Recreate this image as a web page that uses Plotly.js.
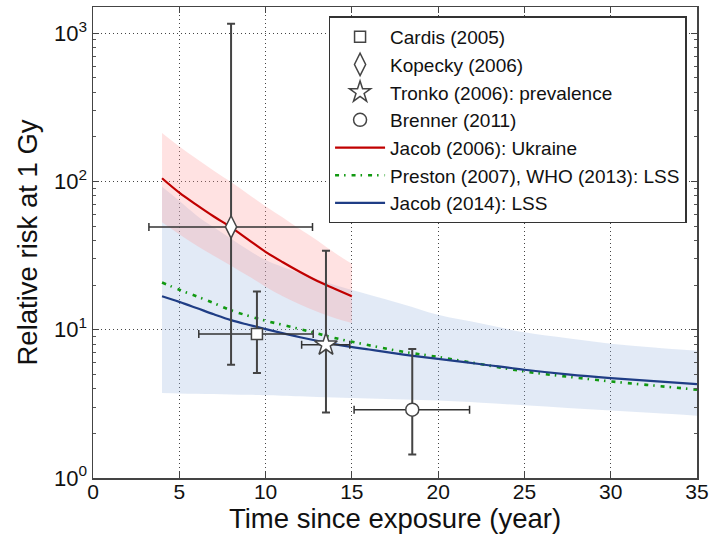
<!DOCTYPE html>
<html>
<head>
<meta charset="utf-8">
<script src="https://cdn.plot.ly/plotly-3.0.1.min.js"></script>
<style>html,body{margin:0;padding:0;background:#fff;}#chart{width:710px;height:536px;}</style>
</head>
<body>
<div id="chart"></div>
<script>
// ---- Data ----
// Jacob (2006): Ukraine (central curve and band)
const ukrX = [4, 5, 6, 7, 8, 9, 10, 11, 12, 13, 14, 15];
const ukrMid = [105, 84, 69.5, 58, 49, 40.5, 33.5, 28.5, 24.5, 21.3, 18.9, 16.8];
const ukrHigh = [212, 172, 142, 118, 99, 82, 68, 57, 47.5, 40, 33, 27.8];
const ukrLow = [53, 44, 37, 31.5, 27, 23, 19.5, 16.8, 14.8, 13.2, 12, 11.1];

// Jacob (2014): LSS (central curve and band)
const lssX = [4, 5, 6, 7, 8, 9, 10, 12, 14, 16, 18, 20, 22.5, 25, 27.5, 30, 32.5, 35];
const lssMid = [16.8, 15.4, 14.0, 12.7, 11.6, 10.8, 10.1, 8.9, 8.0, 7.35, 6.8, 6.35, 5.85, 5.37, 5.0, 4.72, 4.5, 4.3];
const lssHigh = [92, 74, 59, 49, 41, 34.5, 29.5, 24, 20, 17.2, 14.8, 12.6, 11, 9.6, 8.75, 8.05, 7.6, 7.22];
const lssLow = [3.74, 3.72, 3.70, 3.68, 3.66, 3.64, 3.62, 3.56, 3.49, 3.43, 3.38, 3.33, 3.22, 3.09, 2.97, 2.85, 2.74, 2.63];

// Preston (2007), WHO (2013): LSS
const prestonY = [20.8, 18.6, 16.8, 15.1, 13.5, 12.4, 11.5, 10.1, 8.8, 7.85, 7.1, 6.55, 5.85, 5.23, 4.82, 4.48, 4.2, 3.94];

// Study points: [x, y, xLow, xHigh, yLow, yHigh]
const cardis  = [9.5, 9.35, 6.13, 12.76, 5.1, 18.1];
const kopecky = [8.0, 49.3, 3.24, 12.72, 5.81, 1158];
const tronko  = [13.5, 7.92, 12.09, 14.88, 2.77, 34.1];
const brenner = [18.5, 2.89, 15.13, 21.82, 1.44, 7.41];

const xTicks = [0, 5, 10, 15, 20, 25, 30, 35];
const yTicks = [1, 10, 100, 1000];
const yTickText = ['10<sup>0</sup>', '10<sup>1</sup>', '10<sup>2</sup>', '10<sup>3</sup>'];

const names = {
  cardis: 'Cardis (2005)',
  kopecky: 'Kopecky (2006)',
  tronko: 'Tronko (2006): prevalence',
  brenner: 'Brenner (2011)',
  ukr: 'Jacob (2006): Ukraine',
  preston: 'Preston (2007), WHO (2013): LSS',
  lss: 'Jacob (2014): LSS'
};

// ---- Build traces ----
const FONT = 'Liberation Sans, Arial, Helvetica, sans-serif';

function band(x, low, high, fill) {
  return [
    {x: x, y: low, mode: 'lines', line: {width: 0, color: 'rgba(0,0,0,0)', shape: 'spline'}, showlegend: false, hoverinfo: 'skip'},
    {x: x, y: high, mode: 'lines', line: {width: 0, color: 'rgba(0,0,0,0)', shape: 'spline'}, fill: 'tonexty', fillcolor: fill, showlegend: false, hoverinfo: 'skip'}
  ];
}

function point(p, name, symbol, size, rank) {
  return {
    x: [p[0]], y: [p[1]], name: name, mode: 'markers', legendrank: rank,
    marker: {symbol: symbol, size: size, color: 'white', line: {color: '#444', width: 1.5}},
    error_x: {type: 'data', symmetric: false, array: [p[3] - p[0]], arrayminus: [p[0] - p[2]], color: '#333', thickness: 1.5, width: 4},
    error_y: {type: 'data', symmetric: false, array: [p[5] - p[1]], arrayminus: [p[1] - p[4]], color: '#444', thickness: 2, width: 4}
  };
}

const traces = [].concat(
  band(lssX, lssLow, lssHigh, 'rgba(160,185,225,0.3)'),
  band(ukrX, ukrLow, ukrHigh, 'rgba(255,150,150,0.28)'),
  [
    {x: ukrX, y: ukrMid, name: names.ukr, mode: 'lines', line: {color: '#c00000', width: 2.2, shape: 'spline'}, legendrank: 5},
    {x: lssX, y: prestonY, name: names.preston, mode: 'lines', line: {color: '#119911', width: 2.6, dash: '4px,5px,1.5px,6px', shape: 'spline'}, legendrank: 6},
    {x: lssX, y: lssMid, name: names.lss, mode: 'lines', line: {color: '#1f3d85', width: 2.2, shape: 'spline'}, legendrank: 7},
    point(cardis, names.cardis, 'square', 11, 1),
    point(kopecky, names.kopecky, 'diamond-tall', 16, 2),
    point(tronko, names.tronko, 'star', 17, 3),
    point(brenner, names.brenner, 'circle', 13, 4)
  ]
);

// minor ticks for the log axis (axis decoration)
const minorVals = [];
for (let d = 1; d <= 1000; d *= 10) {
  for (let k = 2; k <= 9; k++) minorVals.push(k * d);
}

const layout = {
  width: 710, height: 536,
  margin: {l: 93, r: 13, t: 7, b: 58},
  paper_bgcolor: '#fff', plot_bgcolor: '#fff',
  font: {family: FONT, color: '#111'},
  showlegend: true,
  legend: {
    x: 0.39, y: 0.98, xanchor: 'left', yanchor: 'top',
    bgcolor: '#fff', bordercolor: '#333', borderwidth: 1.5,
    font: {family: FONT, size: 19, color: '#111'},
    itemwidth: 50, traceorder: 'normal'
  },
  xaxis: {
    range: [0, 35], tickvals: xTicks, ticktext: xTicks.map(String),
    ticks: 'inside', ticklen: 6, tickcolor: '#444', tickwidth: 1,
    showline: true, linecolor: '#444', linewidth: 1.5, mirror: 'ticks',
    showgrid: true, gridcolor: '#444', gridwidth: 1, griddash: '1px,3px',
    zeroline: false, tickfont: {size: 21, family: FONT}, ticklabelstandoff: -6,
    ticklabeloverflow: 'allow',
    title: {text: 'Time since exposure (year)', font: {size: 27.5, family: FONT}, standoff: 3}
  },
  yaxis: {
    type: 'log', range: [0, 3.176], tickvals: yTicks, ticktext: yTickText,
    ticks: 'inside', ticklen: 6, tickcolor: '#444', tickwidth: 1,
    showline: true, linecolor: '#444', linewidth: 1.5, mirror: 'ticks',
    showgrid: true, gridcolor: '#444', gridwidth: 1, griddash: '1px,3px',
    zeroline: false, tickfont: {size: 22, family: FONT}, ticklabeloverflow: 'allow',
    minor: {tickvals: minorVals, ticks: 'inside', ticklen: 3, tickcolor: '#555', showgrid: false},
    title: {text: 'Relative risk at 1 Gy', font: {size: 27.5, family: FONT}, standoff: 8}
  }
};

Plotly.newPlot('chart', traces, layout, {staticPlot: true, displayModeBar: false});
</script>
</body>
</html>
